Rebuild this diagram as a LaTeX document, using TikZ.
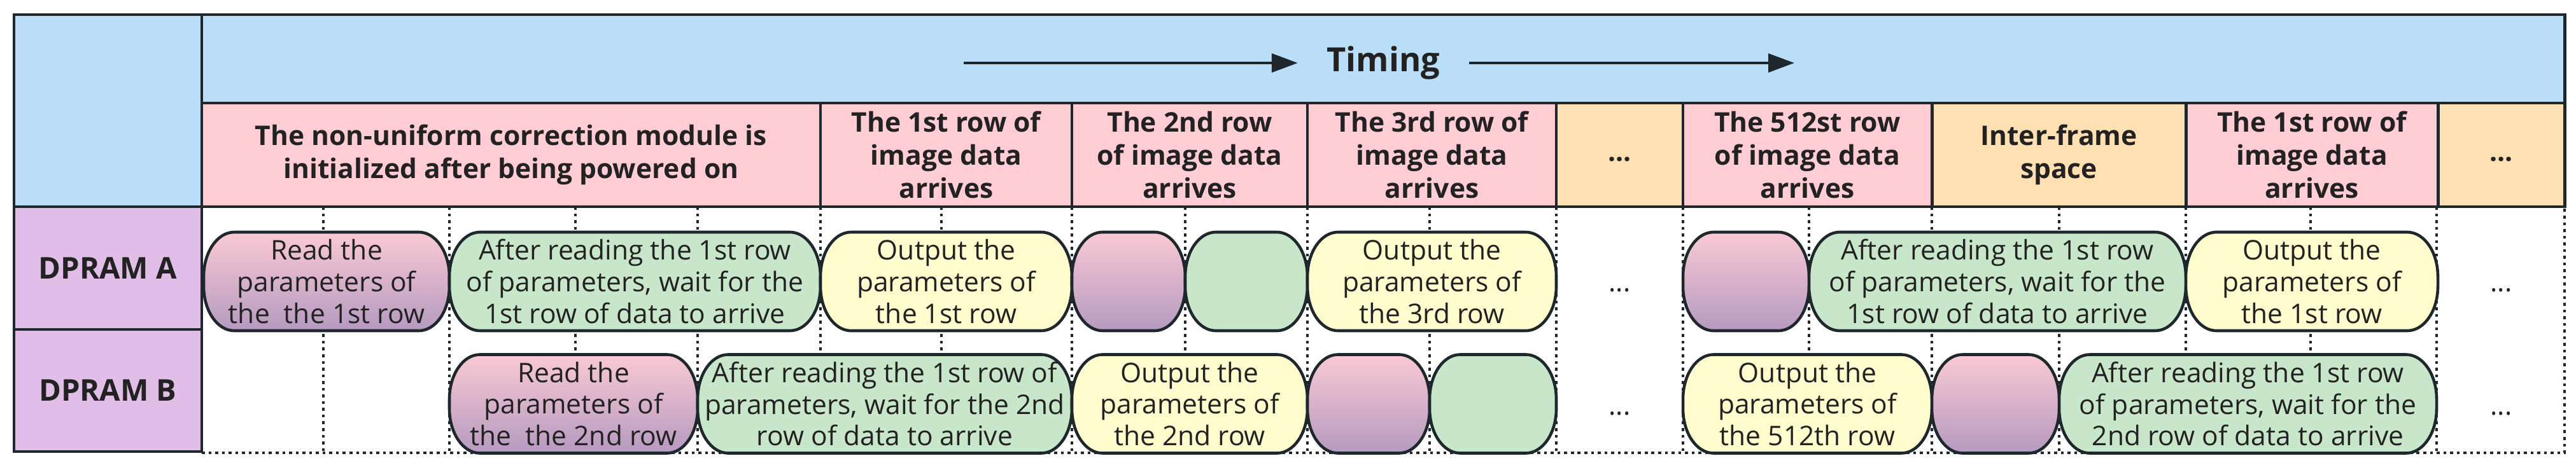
\documentclass[tikz,border=0pt]{standalone}
\usepackage{fontspec}
\setmainfont{Open Sans}
\usetikzlibrary{arrows.meta}

\definecolor{linedark}{HTML}{1E272C}
\definecolor{textdark}{HTML}{222222}
\definecolor{bandblue}{HTML}{BBDEF8}
\definecolor{headpink}{HTML}{FFCDD3}
\definecolor{headorange}{HTML}{FFE0B2}
\definecolor{rampurple}{HTML}{E1BEE7}
\definecolor{pinktop}{HTML}{F9C9D3}
\definecolor{pinkbottom}{HTML}{B59AC0}
\definecolor{waitgreen}{HTML}{C8E6CA}
\definecolor{outyellow}{HTML}{FFFCCD}

\newcommand{\headfont}{\fontsize{12.1}{14.8}\selectfont\bfseries}
\newcommand{\pillfont}{\fontsize{12.1}{14.2}\selectfont}
\newcommand{\ramfont}{\fontsize{13.4}{16}\selectfont\bfseries}
\newcommand{\timefont}{\fontsize{14.9}{18}\selectfont\bfseries}

\tikzset{
    cell/.style={draw=linedark, line width=1.4pt, inner sep=0pt, align=center, text=textdark, font=\headfont},
    headcell/.style={cell, fill=headpink, minimum height=1.63cm},
    gapcell/.style={cell, fill=headorange, minimum height=1.63cm},
    ramcell/.style={cell, fill=rampurple, minimum width=2.95cm, font=\ramfont},
    pillline/.style={draw=linedark, line width=1.3pt},
    readpill/.style={pillline, top color=pinktop, bottom color=pinkbottom},
    waitpill/.style={pillline, fill=waitgreen},
    outpill/.style={pillline, fill=outyellow},
    pilltext/.style={inner sep=0pt, align=center, text=textdark, font=\pillfont},
    moredots/.style={anchor=base, inner sep=0pt, text=textdark, font=\pillfont},
    gridline/.style={draw=linedark, line width=1.3pt, dash pattern=on 1.3pt off 1.7pt},
    timearrow/.style={draw=linedark, line width=1.4pt, -{Triangle[length=4.1mm, width=2.9mm]}}
}

% #1 name, #2 look, #3 left, #4 right, #5 middle height, #6 text
\newcommand{\pill}[6]{%
    \path[#2] ({#3+0.48},{#5+0.775}) -- ({#4-0.48},{#5+0.775})
        arc[start angle=90, end angle=0, x radius=0.48, y radius=0.7] -- ({#4},{#5-0.075})
        arc[start angle=0, end angle=-90, x radius=0.48, y radius=0.7] -- ({#3+0.48},{#5-0.775})
        arc[start angle=270, end angle=180, x radius=0.48, y radius=0.7] -- ({#3},{#5+0.075})
        arc[start angle=180, end angle=90, x radius=0.48, y radius=0.7] -- cycle;
    \node[pilltext] (#1) at ({(#3+#4)/2},{#5}) {#6};}

\begin{document}
\begin{tikzpicture}
                \useasboundingbox (0,0) rectangle (40.47,-7.38);
                % left column and timing band
                \node[cell, fill=bandblue, minimum width=2.95cm, minimum height=3.02cm] (corner) at (1.695,-1.74) {};
                \node[cell, fill=bandblue, minimum width=37.12cm, minimum height=1.39cm] (band) at (21.73,-0.925) {};
                \node[ramcell, minimum height=1.93cm] (rama) at (1.695,-4.215) {DPRAM A};
                \node[ramcell, minimum height=1.92cm] (ramb) at (1.695,-6.14) {DPRAM B};
                \node[anchor=base, inner xsep=0.45cm, text=textdark, font=\timefont] (timing) at (21.735,-1.12) {Timing};
                \coordinate (tleft) at (15.14,-0.99);
                \coordinate (tright) at (28.19,-0.99);
                \draw[timearrow] (tleft) -- (tleft -| timing.west);
                \draw[timearrow] (timing.east |- tright) -- (tright);
                % header row
                \node[headcell, minimum width=9.72cm] (init) at (8.03,-2.435) {The non-uniform correction module is\\initialized after being powered on};
                \node[headcell, minimum width=3.95cm] (rowone) at (14.865,-2.435) {The 1st row of\\image data\\arrives};
                \node[headcell, minimum width=3.70cm] (rowtwo) at (18.69,-2.435) {The 2nd row\\of image data\\arrives};
                \node[headcell, minimum width=3.91cm] (rowthree) at (22.495,-2.435) {The 3rd row of\\image data\\arrives};
                \node[gapcell, minimum width=1.99cm] (rowdots) at (25.445,-2.435) {\strut...};
                \node[headcell, minimum width=3.91cm] (rowlast) at (28.395,-2.435) {The 512st row\\of image data\\arrives};
                \node[gapcell, minimum width=3.99cm] (interframe) at (32.345,-2.435) {Inter-frame\\space};
                \node[headcell, minimum width=3.96cm] (rownext) at (36.32,-2.435) {The 1st row of\\image data\\arrives};
                \node[gapcell, minimum width=1.99cm] (rowmore) at (39.295,-2.435) {\strut...};
                % time slots
                \draw[gridline] (5.08,-3.25) -- (5.08,-7.12) (7.06,-3.25) -- (7.06,-7.12) (9.04,-3.25) -- (9.04,-7.12)
                    (10.96,-3.25) -- (10.96,-7.12) (12.89,-3.25) -- (12.89,-7.12) (14.79,-3.25) -- (14.79,-7.12)
                    (16.84,-3.25) -- (16.84,-7.12) (18.62,-3.25) -- (18.62,-7.12) (20.54,-3.25) -- (20.54,-7.12)
                    (22.46,-3.25) -- (22.46,-7.12) (24.45,-3.25) -- (24.45,-7.12) (26.44,-3.25) -- (26.44,-7.12)
                    (28.42,-3.25) -- (28.42,-7.12) (30.35,-3.25) -- (30.35,-7.12) (32.35,-3.25) -- (32.35,-7.12)
                    (34.34,-3.25) -- (34.34,-7.12) (36.30,-3.25) -- (36.30,-7.12) (38.28,-3.25) -- (38.28,-7.12);
                \draw[gridline] (3.17,-7.12) -- (40.29,-7.12) -- (40.29,-3.25);
                % DPRAM A
                \pill{a1}{readpill}{3.20}{7.06}{-4.425}{Read the\\parameters of\\the\ \ the 1st row}
                \pill{a2}{waitpill}{7.06}{12.89}{-4.425}{After reading the 1st row\\of parameters, wait for the\\1st row of data to arrive}
                \pill{a3}{outpill}{12.89}{16.84}{-4.425}{Output the\\parameters of\\the 1st row}
                \pill{a4}{readpill}{16.84}{18.62}{-4.425}{}
                \pill{a5}{waitpill}{18.62}{20.54}{-4.425}{}
                \pill{a6}{outpill}{20.54}{24.45}{-4.425}{Output the\\parameters of\\the 3rd row}
                \node[moredots] (adots) at (25.445,-4.58) {...};
                \pill{a7}{readpill}{26.44}{28.42}{-4.425}{}
                \pill{a8}{waitpill}{28.42}{34.34}{-4.425}{After reading the 1st row\\of parameters, wait for the\\1st row of data to arrive}
                \pill{a9}{outpill}{34.34}{38.30}{-4.425}{Output the\\parameters of\\the 1st row}
                \node[moredots] (adotsend) at (39.295,-4.58) {...};
                % DPRAM B
                \pill{b1}{readpill}{7.06}{10.96}{-6.35}{Read the\\parameters of\\the\ \ the 2nd row}
                \pill{b2}{waitpill}{10.96}{16.84}{-6.35}{After reading the 1st row of\\parameters, wait for the 2nd\\row of data to arrive}
                \pill{b3}{outpill}{16.84}{20.54}{-6.35}{Output the\\parameters of\\the 2nd row}
                \pill{b4}{readpill}{20.54}{22.46}{-6.35}{}
                \pill{b5}{waitpill}{22.46}{24.45}{-6.35}{}
                \node[moredots] (bdots) at (25.445,-6.52) {...};
                \pill{b6}{outpill}{26.44}{30.35}{-6.35}{Output the\\parameters of\\the 512th row}
                \pill{b7}{readpill}{30.35}{32.35}{-6.35}{}
                \pill{b8}{waitpill}{32.35}{38.28}{-6.35}{After reading the 1st row\\of parameters, wait for the\\2nd row of data to arrive}
                \node[moredots] (bdotsend) at (39.295,-6.52) {...};
            \end{tikzpicture}
\end{document}
